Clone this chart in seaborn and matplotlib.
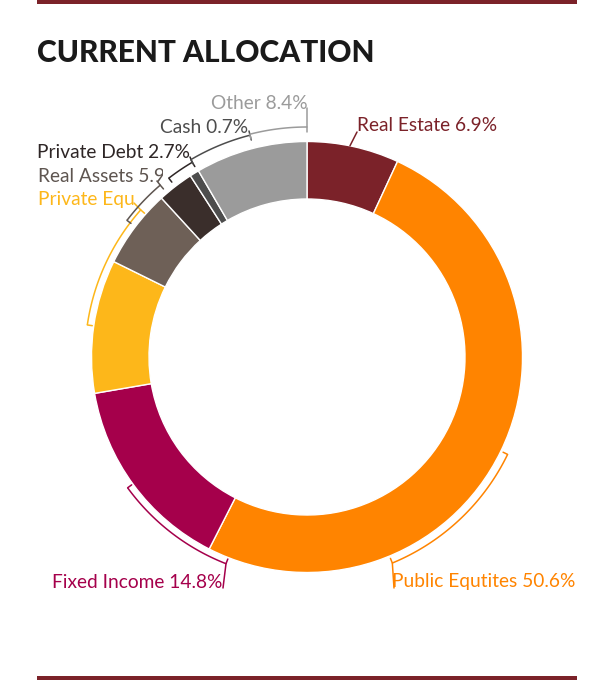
import numpy as np
import pandas as pd
import seaborn as sns
import matplotlib
matplotlib.use("Agg")
import matplotlib.pyplot as plt
from matplotlib.patches import Rectangle

# ---------------- data ----------------
categories = ["Real Estate", "Public Equtites", "Fixed Income", "Private Equity",
              "Real Assets", "Private Debt", "Cash", "Other"]
values = [6.9, 50.6, 14.8, 10.0, 5.9, 2.7, 0.7, 8.4]
colors = ["#7B2229", "#FF8400", "#A5004B", "#FDB71A",
          "#6E6057", "#3A2E2B", "#4D4D4D", "#9B9B9B"]
label_colors = ["#7B2229", "#FF8400", "#A5004B", "#FDB71A",
                "#5E5550", "#2E2626", "#4D4D4D", "#9B9B9B"]
title = "CURRENT ALLOCATION"

df = pd.DataFrame({"category": categories, "value": values, "color": colors,
                   "label_color": label_colors})
df["label"] = [f"{c} {v:.1f}%" for c, v in zip(df["category"], df["value"])]

sns.set_theme(style="white")
plt.rcParams["font.family"] = ["Lato", "DejaVu Sans"]

W, H = 610, 685
fig = plt.figure(figsize=(W / 100, H / 100), dpi=100)
ax = fig.add_axes([0, 0, 1, 1])

CX, CY = 307, 357          # centre in pixel coords (y from top)
R_OUT, R_IN = 215.5, 158


def Y(y):
    return H - y


ax.pie(df["value"], colors=df["color"], startangle=90, counterclock=False,
       radius=R_OUT, center=(CX, Y(CY)),
       wedgeprops=dict(width=R_OUT - R_IN, edgecolor="white", linewidth=1.0))

ax.set_xlim(0, W)
ax.set_ylim(0, H)
ax.set_aspect("equal")
ax.axis("off")


def pt(a, r):
    t = np.deg2rad(a)
    return CX + r * np.cos(t), Y(CY) + r * np.sin(t)


def bracket(a1, a2, r, color, lead_angle, lead_to, tick=5, lw=1.1):
    th = np.linspace(a1, a2, 80)
    xs, ys = zip(*[pt(a, r) for a in th])
    ax.plot(xs, ys, color=color, lw=lw, solid_capstyle="butt")
    for a in (a1, a2):
        x0, y0 = pt(a, r)
        x1, y1 = pt(a, r - tick)
        ax.plot([x0, x1], [y0, y1], color=color, lw=lw)
    if lead_to is not None:
        x0, y0 = pt(lead_angle, r)
        ax.plot([x0, lead_to[0]], [y0, Y(lead_to[1])], color=color, lw=lw)


# --- brackets / leader lines (layout) ---
lab = dict(zip(df["category"], zip(df["label"], df["label_color"])))

x0, y0 = pt(78.5, R_OUT)
ax.plot([x0, 357], [y0, Y(132)], color=lab["Real Estate"][1], lw=1.1)
bracket(-25.9, -67.5, 223, lab["Public Equtites"][1], -67.5, (394, 588))
bracket(-143.9, -111.4, 222, lab["Fixed Income"][1], -111.4, (223, 588))
bracket(171.7, 138.5, 222, lab["Private Equity"][1], 138.5, (134, 203))
bracket(142.8, 130.5, 226, lab["Real Assets"][1], 130.5, (157, 181))
bracket(127.7, 120.5, 226, lab["Private Debt"][1], 120.5, (190, 157))
bracket(120.5, 104.4, 229, lab["Cash"][1], 104.4, (249, 131))
bracket(104.4, 90.0, 230, lab["Other"][1], 90.0, (307, 108))

# --- labels (layout) ---
FS = 13.8
label_pos = {
    "Real Estate": (357, 125, "left", None),
    "Public Equtites": (392, 582, "left", None),
    "Fixed Income": (222, 582, "right", None),
    "Private Equity": (38, 199, "left", 134),
    "Real Assets": (38, 176, "left", 163),
    "Private Debt": (190, 152, "right", None),
    "Cash": (248, 127, "right", None),
    "Other": (308, 103, "right", None),
}
for cat, (x, y, ha, clip) in label_pos.items():
    text, col = lab[cat]
    t = ax.text(x, Y(y), text, ha=ha, va="center", fontsize=FS,
                color=col, fontweight="normal")
    if clip is not None:
        rect = Rectangle((0, 0), clip, H, transform=ax.transData)
        t.set_clip_on(True)
        t.set_clip_path(rect)

# title
ax.text(37, Y(62), title, ha="left", va="baseline", fontsize=21.5,
        fontweight="black", color="#1A1A1A")

# top and bottom rules
ax.add_patch(Rectangle((37, Y(4)), 540, 4, color="#7B2229", lw=0))
ax.add_patch(Rectangle((37, Y(680)), 540, 4.5, color="#7B2229", lw=0))

fig.savefig("out.png", dpi=100)
